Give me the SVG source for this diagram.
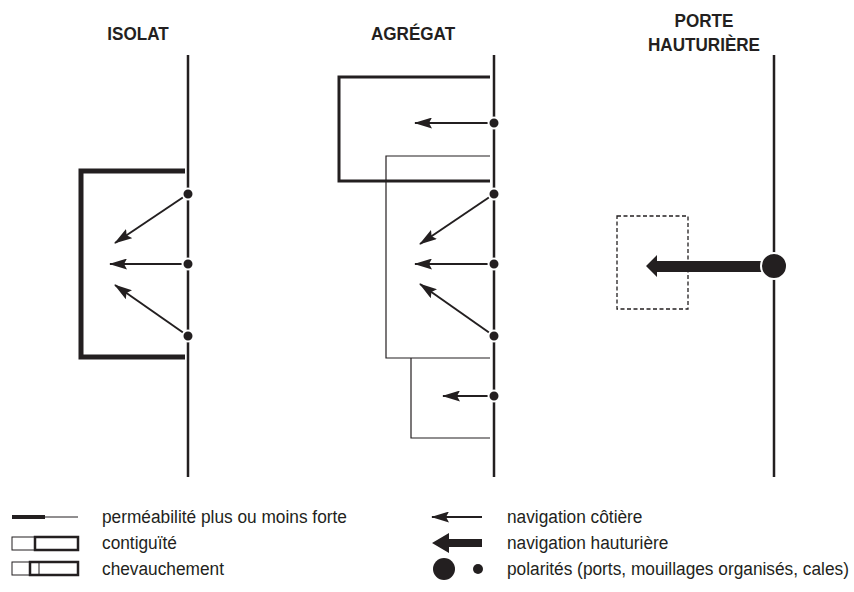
<svg xmlns="http://www.w3.org/2000/svg" width="854" height="592" viewBox="0 0 854 592">
<style>
.head{font-family:"Liberation Sans",Arial,sans-serif;font-weight:bold;font-size:19px;fill:#231f20;text-anchor:middle}
.leg{font-family:"Liberation Sans",Arial,sans-serif;font-size:19px;fill:#231f20}
.coast{stroke:#231f20;stroke-width:2.5;fill:none}
.thick{stroke:#231f20;stroke-width:3;fill:none}
.thin{stroke:#231f20;stroke-width:1.2;fill:none}
.heavy{stroke:#231f20;stroke-width:5;fill:none}
.arr{stroke:#231f20;stroke-width:2;fill:none;marker-end:url(#ah)}
.dot{fill:#231f20;stroke:#fff;stroke-width:2}
</style>
<defs>
<marker id="ah" viewBox="0 0 18 11" refX="17" refY="5.5" markerWidth="18" markerHeight="11" markerUnits="userSpaceOnUse" orient="auto">
<path d="M0,0 L18,5.5 L0,11 L3,5.5 z" fill="#231f20"/>
</marker>
</defs>
<rect width="854" height="592" fill="#fff"/>
<g id="titles">
<text class="head" transform="translate(138,40) scale(0.9,1)">ISOLAT</text>
<text class="head" transform="translate(413,40) scale(0.9,1)">AGRÉGAT</text>
<text class="head" transform="translate(704,27) scale(0.9,1)">PORTE</text>
<text class="head" transform="translate(704,51) scale(0.9,1)">HAUTURIÈRE</text>
</g>
<g id="isolat">
<line class="coast" x1="188" y1="55" x2="188" y2="477"/>
<path class="heavy" d="M185,171 H81 V357 H185"/>
</g>
<g id="agregat">
<line class="coast" x1="494" y1="55" x2="494" y2="477"/>
<path class="thick" d="M490,77 H339 V181 H490"/>
<path class="thin" d="M490,156 H386 V358 H490"/>
<path class="thin" d="M411,358 V438 H490"/>
</g>
<g id="porte">
<line class="coast" x1="774" y1="55" x2="774" y2="477"/>
<rect x="617" y="216" width="71" height="93" fill="none" stroke="#231f20" stroke-width="1.3" stroke-dasharray="4 2.5"/>
</g>
<g id="connectors">
<path class="arr" d="M188,194 L115,243"/>
<path class="arr" d="M188,264 L110,264"/>
<path class="arr" d="M188,336 L115,285"/>
<path class="arr" d="M494,123 L415,123"/>
<path class="arr" d="M494,194 L420,244"/>
<path class="arr" d="M494,264 L415,264"/>
<path class="arr" d="M494,336 L420,284"/>
<path class="arr" d="M494,396 L443,396"/>
<path d="M762,261 H657 V255 L646,266 L657,277 V272 H762 z" fill="#231f20"/>
</g>
<g id="polarites">
<circle class="dot" cx="188" cy="194" r="5.5"/>
<circle class="dot" cx="188" cy="264" r="5.5"/>
<circle class="dot" cx="188" cy="336" r="5.5"/>
<circle class="dot" cx="494" cy="123" r="5.5"/>
<circle class="dot" cx="494" cy="194" r="5.5"/>
<circle class="dot" cx="494" cy="264" r="5.5"/>
<circle class="dot" cx="494" cy="336" r="5.5"/>
<circle class="dot" cx="494" cy="396" r="5.5"/>
<circle class="dot" cx="774" cy="266" r="13"/>
</g>
<g id="legend">
<line x1="12" y1="517" x2="45" y2="517" stroke="#231f20" stroke-width="4"/>
<line x1="45" y1="517" x2="78" y2="517" stroke="#231f20" stroke-width="1"/>
<rect x="12" y="537" width="23" height="13" fill="none" stroke="#231f20" stroke-width="1"/>
<rect x="35" y="537" width="43" height="13" fill="none" stroke="#231f20" stroke-width="2.5"/>
<rect x="12" y="562" width="27" height="13" fill="none" stroke="#231f20" stroke-width="1"/>
<rect x="30" y="562" width="48" height="13" fill="none" stroke="#231f20" stroke-width="2.5"/>
<text class="leg" transform="translate(102,523) scale(0.91,1)">perméabilité plus ou moins forte</text>
<text class="leg" transform="translate(102,549) scale(0.91,1)">contiguïté</text>
<text class="leg" transform="translate(102,575) scale(0.91,1)">chevauchement</text>
<path class="arr" d="M482,517 L432,517"/>
<path d="M482,539 H449 V533 L432,543 L449,553 V547 H482 z" fill="#231f20"/>
<circle cx="444" cy="569" r="11" fill="#231f20"/>
<circle cx="478" cy="569" r="5" fill="#231f20"/>
<text class="leg" transform="translate(507,523) scale(0.91,1)">navigation côtière</text>
<text class="leg" transform="translate(507,549) scale(0.91,1)">navigation hauturière</text>
<text class="leg" transform="translate(507,575) scale(0.91,1)">polarités (ports, mouillages organisés, cales)</text>
</g>
</svg>
